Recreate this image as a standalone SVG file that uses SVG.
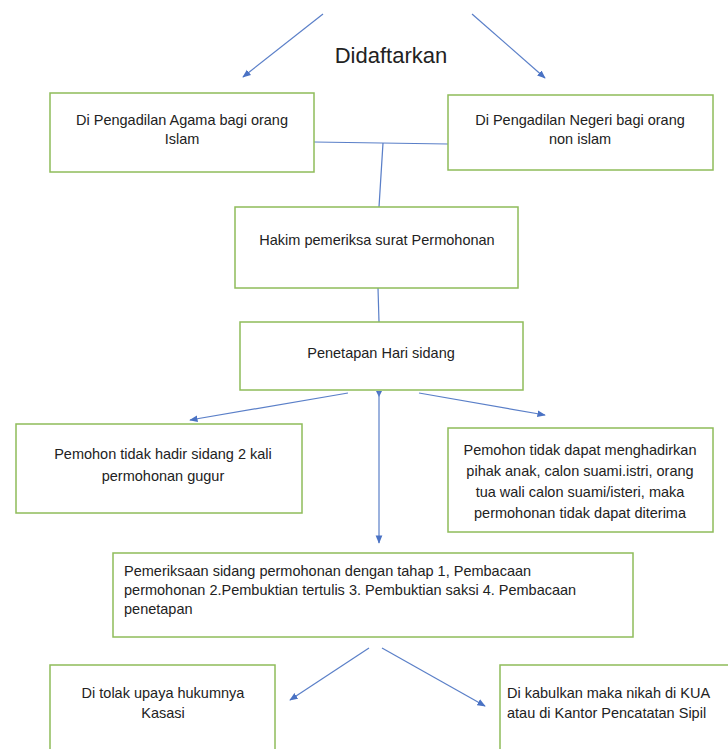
<svg xmlns="http://www.w3.org/2000/svg" width="728" height="749" viewBox="0 0 728 749">
<style>
.box{fill:#fff;stroke:#8fbc5a;stroke-width:1.5}
.t{font-family:"Liberation Sans",Arial,sans-serif;font-size:14.5px;fill:#222;text-anchor:middle}
.tl{font-family:"Liberation Sans",Arial,sans-serif;font-size:14.5px;fill:#222}
.c{stroke:#5a7fc8;stroke-width:1.2;fill:none}
</style>
<defs>
<marker id="ah" viewBox="0 0 10 10" refX="9" refY="5" markerWidth="7" markerHeight="7" orient="auto">
<path d="M0,1 L10,5 L0,9 z" fill="#4a72c4"/>
</marker>
</defs>
<rect width="728" height="749" fill="#fff"/>
<g id="connectors">
<line class="c" x1="323" y1="14" x2="243" y2="77" marker-end="url(#ah)"/>
<line class="c" x1="472" y1="14" x2="545" y2="78" marker-end="url(#ah)"/>
<line class="c" x1="314" y1="142" x2="448" y2="144"/>
<line class="c" x1="383" y1="143" x2="379" y2="207"/>
<line class="c" x1="378" y1="288" x2="379" y2="322"/>
<line class="c" x1="348" y1="393" x2="190" y2="420" marker-end="url(#ah)"/>
<line class="c" x1="419" y1="393" x2="545" y2="415" marker-end="url(#ah)"/>
<polygon points="376,391 382,391 379,397" fill="#4a72c4"/>
<line class="c" x1="379" y1="391" x2="379" y2="543" marker-end="url(#ah)"/>
<line class="c" x1="369" y1="648" x2="290" y2="700" marker-end="url(#ah)"/>
<line class="c" x1="382" y1="648" x2="485" y2="706" marker-end="url(#ah)"/>
</g>
<g id="title"><text x="391" y="63" class="t" style="font-size:22px">Didaftarkan</text></g>
<g id="n1"><rect class="box" x="50" y="93" width="264" height="79"/>
<text class="t" x="182" y="125">Di Pengadilan Agama bagi orang</text>
<text class="t" x="182" y="144">Islam</text></g>
<g id="n2"><rect class="box" x="448" y="95" width="265" height="75"/>
<text class="t" x="580" y="125">Di Pengadilan Negeri bagi orang</text>
<text class="t" x="580" y="144">non islam</text></g>
<g id="n3"><rect class="box" x="235" y="207" width="283" height="81"/>
<text class="t" x="377" y="245">Hakim pemeriksa surat Permohonan</text></g>
<g id="n4"><rect class="box" x="240" y="322" width="283" height="68"/>
<text class="t" x="381" y="358">Penetapan Hari sidang</text></g>
<g id="n5"><rect class="box" x="16" y="424" width="286" height="89"/>
<text class="t" x="163" y="459">Pemohon tidak hadir sidang 2 kali</text>
<text class="t" x="163" y="481">permohonan gugur</text></g>
<g id="n6"><rect class="box" x="448" y="428" width="265" height="104"/>
<text class="t" x="580" y="455">Pemohon tidak dapat menghadirkan</text>
<text class="t" x="580" y="476">pihak anak, calon suami.istri, orang</text>
<text class="t" x="580" y="497">tua wali calon suami/isteri, maka</text>
<text class="t" x="580" y="518">permohonan tidak dapat diterima</text></g>
<g id="n7"><rect class="box" x="113" y="553" width="520" height="84"/>
<text class="tl" x="124" y="576">Pemeriksaan sidang permohonan dengan tahap 1, Pembacaan</text>
<text class="tl" x="124" y="595">permohonan 2.Pembuktian tertulis 3. Pembuktian saksi 4. Pembacaan</text>
<text class="tl" x="124" y="614">penetapan</text></g>
<g id="n8"><rect class="box" x="50" y="665" width="225" height="100"/>
<text class="t" x="163" y="698">Di tolak upaya hukumnya</text>
<text class="t" x="163" y="718">Kasasi</text></g>
<g id="n9"><rect class="box" x="500" y="665" width="240" height="100"/>
<text class="tl" x="507" y="698">Di kabulkan maka nikah di KUA</text>
<text class="tl" x="507" y="718">atau di Kantor Pencatatan Sipil</text></g>
</svg>
